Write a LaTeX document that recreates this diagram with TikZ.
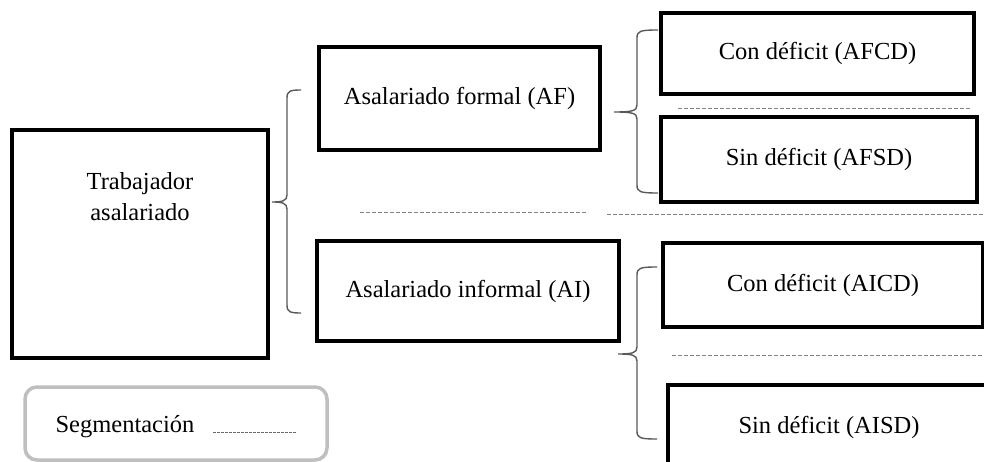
\documentclass[tikz,border=0pt]{standalone}
\usepackage{fontspec}
\setmainfont{Liberation Serif}
\begin{document}
\begin{tikzpicture}[x=1pt,y=-1pt,
  box/.style={draw=black, line width=3.2pt, inner sep=0pt, font=\fontsize{24.5}{31}\selectfont, align=center},
  lbl/.style={inner sep=0pt, font=\fontsize{24.5}{31}\selectfont, align=center},
  brc/.style={draw=black!65, line width=1.4pt},
  seg/.style={draw=black!50, line width=1pt, dash pattern=on 4pt off 2pt},
]
\useasboundingbox (0,0) rectangle (984,462);
\newcommand\mybrace[7]{% xtip ym xv xe yt yb
  \draw[brc] (#4,#5) .. controls (#3+3,#5) and (#3,#5+1) .. (#3,#5+8)
    -- (#3,#2-7) .. controls (#3,#2-1) and (#3-5,#2) .. (#1,#2)
    .. controls (#3-5,#2) and (#3,#2+1) .. (#3,#2+7)
    -- (#3,#6-8) .. controls (#3,#6-1) and (#3+3,#6) .. (#4,#6);}
% boxes
\node[box, minimum width=256pt, minimum height=228pt] (trab) at (140,244) {};
\node[lbl] (trabt) at (140,197) {Trabajador\\asalariado};
\node[box, minimum width=281pt, minimum height=103pt] (af) at (459.5,98.5) {Asalariado formal (AF)};
\node[box, minimum width=302pt, minimum height=100pt] (ai) at (468,291) {Asalariado informal (AI)};
\node[box, minimum width=313pt, minimum height=81pt] (afcd) at (817.5,53.5) {Con déficit (AFCD)};
\node[box, minimum width=316pt, minimum height=85pt] (afsd) at (819,159.5) {Sin déficit (AFSD)};
\node[box, minimum width=320pt, minimum height=84pt] (aicd) at (823,285) {Con déficit (AICD)};
\node[box, minimum width=322pt, minimum height=85pt] (aisd) at (829,427.5) {Sin déficit (AISD)};
% braces
\mybrace{272}{202}{287}{301}{90}{313}{}
\mybrace{614}{112}{637}{658}{30}{193}{}
\mybrace{618}{354}{637}{657}{267}{439}{}
% segmentation lines
\coordinate (d1a) at (360,213); \coordinate (d1b) at (588,213);
\coordinate (d2a) at (607,215); \coordinate (d2b) at (984,215);
\coordinate (d3a) at (678,109); \coordinate (d3b) at (970,109);
\coordinate (d4a) at (672,355); \coordinate (d4b) at (984,355);
\draw[seg] (d1a) -- (d1b);
\draw[seg] (d2a) -- (d2b);
\draw[seg] (d3a) -- (d3b);
\draw[seg] (d4a) -- (d4b);
% legend
\node[draw=black!25, line width=3.5pt, rounded corners=12pt, minimum width=302pt, minimum height=73pt, inner sep=0pt] (legend) at (176,423.5) {};
\node[lbl] (legt) at (125,427) {Segmentación};
\coordinate (la) at (213,432); \coordinate (lb) at (296,432);
\draw[draw=black!60, line width=0.8pt, dash pattern=on 2.6pt off 1.4pt] (la) -- (lb);
\end{tikzpicture}
\end{document}
